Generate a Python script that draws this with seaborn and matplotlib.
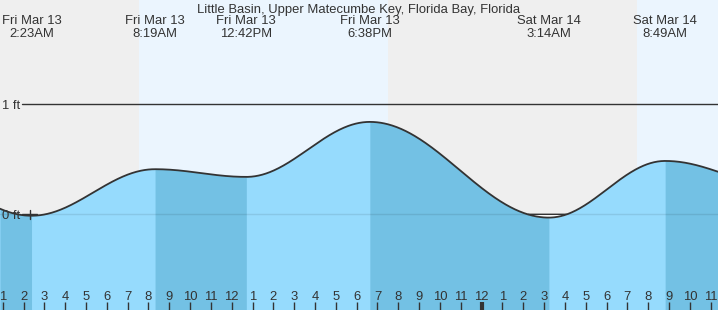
import numpy as np
import pandas as pd
import matplotlib
matplotlib.use("Agg")
import matplotlib.pyplot as plt
import matplotlib.transforms as mtransforms
import seaborn as sns

# ---- data ----
title = "Little Basin, Upper Matecumbe Key, Florida Bay, Florida"
# tide extremes: hours since Fri Mar 13 00:00, height in ft
extreme_days = ["Fri Mar 13", "Fri Mar 13", "Fri Mar 13", "Fri Mar 13", "Sat Mar 14", "Sat Mar 14"]
extreme_times = ["2:23AM", "8:19AM", "12:42PM", "6:38PM", "3:14AM", "8:49AM"]
extreme_hours = [2.383, 8.317, 12.70, 18.633, 27.233, 32.817]
extreme_heights = [-0.013, 0.41, 0.34, 0.84, -0.03, 0.485]
# extremes just outside the visible window (needed for the curve ends)
prev_extreme = (-6.0, 0.80)
next_extreme = (38.5, 0.25)
# daylight periods (hours since Fri 00:00)
day_start = [7.55, 31.47]
day_end = [19.50, 36.0]
# hour tick labels
hour_ticks = list(range(1, 36))
hour_labels = [str((h - 1) % 12 + 1) for h in hour_ticks]
ft_levels = [0, 1]
ft_labels = ["0 ft", "1 ft"]

# ---- style ----
sns.set_theme(style="white")
plt.rcParams["font.family"] = ["Liberation Sans", "DejaVu Sans"]
TXT = "#333333"
FS = 9.4
LIGHT = "#96dbfd"
DARK = "#73c1e4"

W, H = 718, 310
fig = plt.figure(figsize=(W / 100, H / 100), dpi=100)
ax = fig.add_axes([0, 0, 1, 1])
px_per_h = 20.82
x0_px = -18.1
xlim = ((0 - x0_px) / px_per_h, (W - x0_px) / px_per_h)
ylim = ((214.3 - 310) / 110.0, 214.3 / 110.0)

# background: night grey / day light blue
ax.set_facecolor("#efefef")
for s, e in zip(day_start, day_end):
    ax.axvspan(s, e, color="#ebf5fe", lw=0, zorder=0)

# tide curve, cosine-shaped between successive extremes (renderer step)
kt = [prev_extreme[0]] + extreme_hours + [next_extreme[0]]
kh = [prev_extreme[1]] + extreme_heights + [next_extreme[1]]
segs = []
for i in range(len(kt) - 1):
    ta, tb, ha, hb = kt[i], kt[i + 1], kh[i], kh[i + 1]
    a, b = max(ta, xlim[0]), min(tb, xlim[1])
    if b <= a:
        continue
    tt = np.linspace(a, b, 200)
    fr = (1 - np.cos(np.pi * (tt - ta) / (tb - ta))) / 2
    segs.append(pd.DataFrame({"hour": tt, "ft": ha + (hb - ha) * fr, "falling": hb < ha}))
df = pd.concat(segs, ignore_index=True)

# light fill under whole curve, dark overlay on falling segments
ax.fill_between(df["hour"], ylim[0], df["ft"], color=LIGHT, lw=0, zorder=1)
for sg in segs:
    if sg["falling"].iloc[0]:
        ax.fill_between(sg["hour"], ylim[0], sg["ft"], color=DARK, lw=0, zorder=1.1)

# below-zero gap shown white with a dark 0 line (second low)
neg = (df["ft"] < 0) & (df["hour"] > 20)
ax.fill_between(df["hour"], df["ft"], 0, where=neg, color="white", lw=0, zorder=1.5)
ax.plot(df["hour"].where(neg), np.zeros(len(df)), color=TXT, lw=1, zorder=2)

# 0 ft faint line inside the fill
ax.axhline(0, color="black", alpha=0.09, lw=1, zorder=1.6)

sns.lineplot(data=df, x="hour", y="ft", ax=ax, color="#333333", lw=1.3, zorder=3, estimator=None, sort=False)

# 1 ft line and labels
xstart = (22 - x0_px) / px_per_h
ax.plot([xstart, xlim[1]], [1, 1], color=TXT, lw=1, zorder=2)
ax.plot([xstart, (37 - x0_px) / px_per_h], [0, 0], color=TXT, lw=1, zorder=2)
ax.plot([(30 - x0_px) / px_per_h] * 2, [0.04, -0.04], color=TXT, lw=1, zorder=4)
for lv, lb in zip(ft_levels, ft_labels):
    ax.text(xlim[0] + 2 / px_per_h, lv, lb, ha="left", va="center_baseline", fontsize=FS, color=TXT, zorder=5)

# hour ticks
bt = mtransforms.blended_transform_factory(ax.transData, ax.transAxes)
for h, lb in zip(hour_ticks, hour_labels):
    ax.text(h, 1 - 295.5 / H, lb, transform=bt, ha="center", va="center_baseline", fontsize=FS, color=TXT, zorder=5)
    lw = 3 if h == 24 else 1
    ax.plot([h, h], [0, 8 / H], transform=bt, color=TXT, lw=lw, zorder=5, solid_capstyle="butt")

# extreme labels
for d, tm, h in zip(extreme_days, extreme_times, extreme_hours):
    ax.text(h, 1 - 20 / H, d, transform=bt, ha="center", va="center_baseline", fontsize=FS, color=TXT)
    ax.text(h, 1 - 32.5 / H, tm, transform=bt, ha="center", va="center_baseline", fontsize=FS, color=TXT)

fig.text(359 / W, 1 - 8 / H, title, ha="center", va="center_baseline", fontsize=FS, color=TXT)

ax.set_xlim(*xlim)
ax.set_ylim(*ylim)
ax.set_xticks([])
ax.set_yticks([])
ax.set_xlabel("")
ax.set_ylabel("")
for s in ax.spines.values():
    s.set_visible(False)
fig.savefig("out.png", dpi=100)
